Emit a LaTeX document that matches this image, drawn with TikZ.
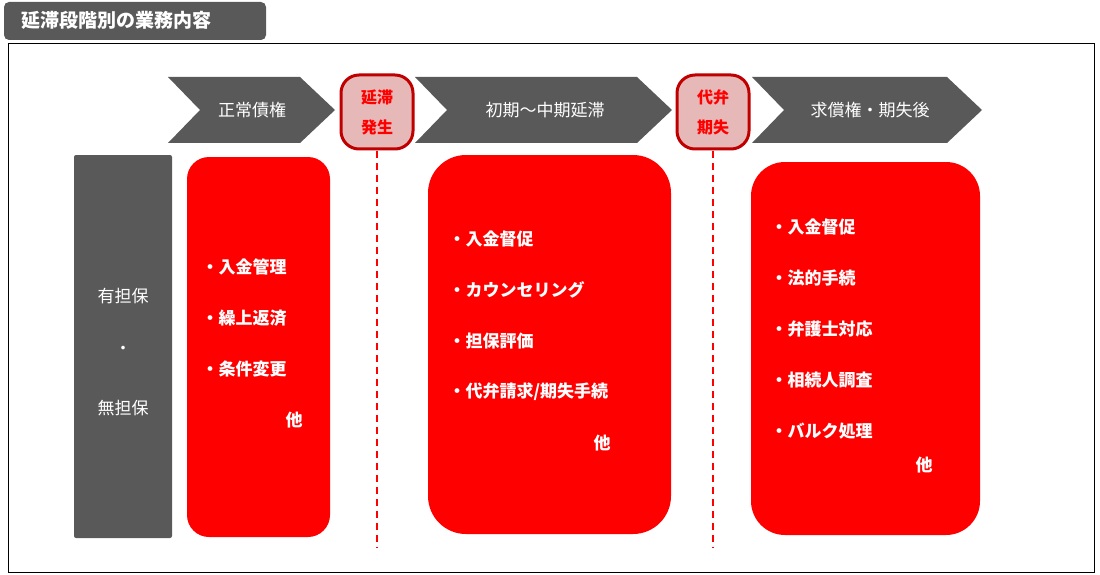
\documentclass[tikz,border=0pt]{standalone}
\usepackage{fontspec}
\setmainfont{Noto Sans CJK JP}
\newfontfamily\cjkbold[BoldFont={* Bold}]{Noto Sans CJK JP}
\usetikzlibrary{positioning}
\definecolor{darkgray}{HTML}{595959}
\definecolor{stagered}{HTML}{FF0000}
\definecolor{pillpink}{HTML}{E6B9B8}
\definecolor{pillline}{HTML}{C00000}
\tikzset{
  chevron/.style={fill=darkgray, draw=none},
  stagetext/.style={text=white, font=\fontsize{17}{20}\selectfont},
  pill/.style={draw=pillline, line width=3pt, fill=pillpink, rounded corners=18pt},
  pilltext/.style={text=stagered, font=\fontsize{16}{30}\selectfont\bfseries, align=center},
  taskbox/.style={fill=stagered, draw=none, rounded corners=30pt},
  task/.style={text=white, font=\fontsize{17}{20}\selectfont\bfseries, anchor=west},
  border/.style={stagered, line width=2pt, dash pattern=on 7pt off 5pt}
}
\begin{document}
\begin{tikzpicture}[x=1pt, y=-1pt]
\useasboundingbox (0,0) rectangle (1100,575);
% title and frame
\fill[darkgray, rounded corners=5pt] (4,2) rectangle (266,40);
\node[text=white, font=\fontsize{19}{22}\selectfont\bfseries, anchor=west] (title) at (18,20) {延滞段階別の業務内容};
\draw[black, line width=0.6pt] (8,43) rectangle (1094,572);
% stage chevrons
\fill[chevron] (168,77) -- (300,77) -- (335,110) -- (300,143) -- (168,143) -- (200,110) -- cycle;
\fill[chevron] (415,77) -- (637,77) -- (672,110) -- (637,143) -- (415,143) -- (447,110) -- cycle;
\fill[chevron] (752,77) -- (947,77) -- (982,110) -- (947,143) -- (752,143) -- (784,110) -- cycle;
\node[stagetext] (normal) at (252,110) {正常債権};
\node[stagetext] (early) at (545,110) {初期～中期延滞};
\node[stagetext] (after) at (870,110) {求償権・期失後};
% events
\draw[pill] (341,75) rectangle (413,149);
\node[pilltext] (delay) at (377,112) {延滞\\発生};
\draw[pill] (677,75) rectangle (749,149);
\node[pilltext] (subro) at (713,112) {代弁\\期失};
\coordinate (delayend) at (377,548);
\coordinate (subroend) at (713,548);
\draw[border] (377,151) -- (delayend);
\draw[border] (713,151) -- (subroend);
% left label
\fill[darkgray, rounded corners=2pt] (74,155) rectangle (172,538);
\node[stagetext] (secured) at (123,296) {有担保};
\node[stagetext] (dot) at (123,350) {・};
\node[stagetext] (unsecured) at (123,408) {無担保};
% task boxes
\fill[taskbox, rounded corners=22pt] (187,157) rectangle (330,537);
\fill[taskbox, rounded corners=38pt] (428,155) rectangle (671,534);
\fill[taskbox, rounded corners=34pt] (751,162) rectangle (980,535);
\foreach \t [count=\i] in {入金管理, 繰上返済, 条件変更}
  \node[task] (a\i) at (198,216+51*\i) {・\t};
\node[task] (aother) at (282,420) {他};
\foreach \t [count=\i] in {入金督促, カウンセリング, 担保評価, 代弁請求/期失手続}
  \node[task] (b\i) at (445,188+51*\i) {・\t};
\node[task] (bother) at (590,443) {他};
\foreach \t [count=\i] in {入金督促, 法的手続, 弁護士対応, 相続人調査, バルク処理}
  \node[task] (c\i) at (767,176+51*\i) {・\t};
\node[task] (cother) at (912,465) {他};
\end{tikzpicture}
\end{document}
